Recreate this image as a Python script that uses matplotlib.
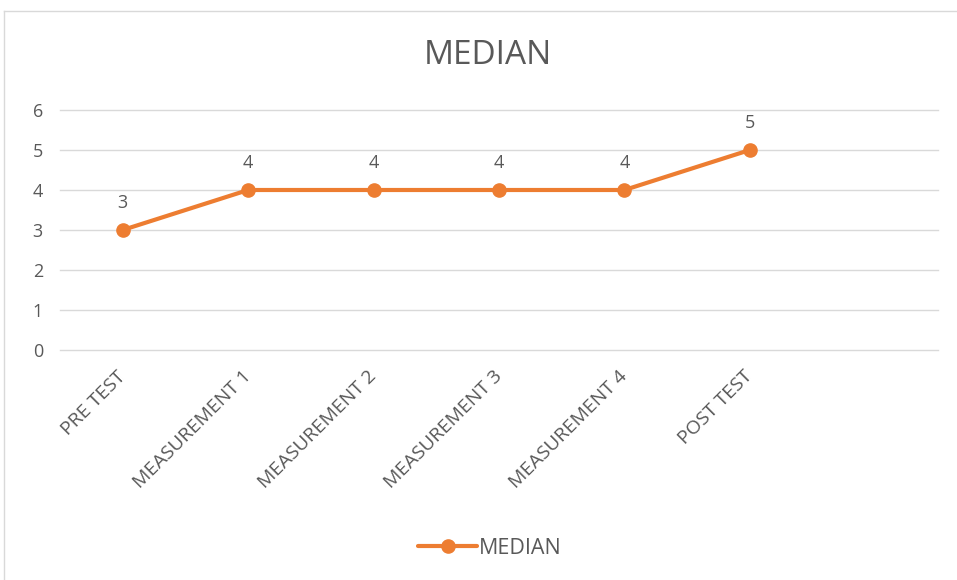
import matplotlib.pyplot as plt
from matplotlib.lines import Line2D

# chart data
categories = ['PRE TEST', 'MEASUREMENT 1', 'MEASUREMENT 2', 'MEASUREMENT 3',
              'MEASUREMENT 4', 'POST TEST', '']
median = [3, 4, 4, 4, 4, 5]
y_ticks = [0, 1, 2, 3, 4, 5, 6]

orange = '#ED7D31'
grey_text = '#595959'
grid_col = '#D9D9D9'

plt.rcParams['font.family'] = ['Open Sans', 'DejaVu Sans']

fig = plt.figure(figsize=(9.57, 5.80), dpi=100)
ax = fig.add_axes([60 / 957, 1 - 350 / 580, 878 / 957, 240 / 580])

x = list(range(len(median)))
ax.plot(x, median, color=orange, linewidth=3, marker='o', markersize=9.5,
        label='MEDIAN', solid_capstyle='round')

for xi, v in zip(x, median):
    ax.annotate(str(v), (xi, v), xytext=(0, 13), textcoords='offset points',
                ha='center', va='bottom', fontsize=13, color=grey_text)

ax.set_xlim(-0.5, len(categories) - 0.5)
ax.set_ylim(0, 6)
ax.set_yticks(y_ticks)
ax.set_xticks(range(len(categories)))
ax.set_xticklabels(categories, rotation=45, ha='right', va='center',
                   rotation_mode='anchor', fontsize=14, color=grey_text)
ax.tick_params(axis='x', length=0, pad=17)
ax.tick_params(axis='y', length=0, pad=16, labelsize=13, labelcolor=grey_text)
for lbl in ax.get_yticklabels():
    lbl.set_horizontalalignment('center')
ax.grid(axis='y', color=grid_col, linewidth=1)
for gl in ax.get_ygridlines():
    gl.set_clip_on(False)
ax.set_axisbelow(True)
for s in ax.spines.values():
    s.set_visible(False)

fig.text(488 / 957, 1 - 55 / 580, 'MEDIAN', ha='center', va='center',
         fontsize=24, color=grey_text)

fig.legend(loc='center', bbox_to_anchor=(490 / 957, 1 - 548 / 580),
           frameon=False, fontsize=15.5, handlelength=2.7, labelcolor=grey_text,
           handletextpad=0.1)

# chart border
fig.add_artist(Line2D([4 / 957, 4 / 957], [0, 1 - 11 / 580],
                      color=grid_col, linewidth=1, transform=fig.transFigure))
fig.add_artist(Line2D([4 / 957, 1], [1 - 11 / 580, 1 - 11 / 580],
                      color=grid_col, linewidth=1, transform=fig.transFigure))

fig.savefig('out.png', dpi=100)
